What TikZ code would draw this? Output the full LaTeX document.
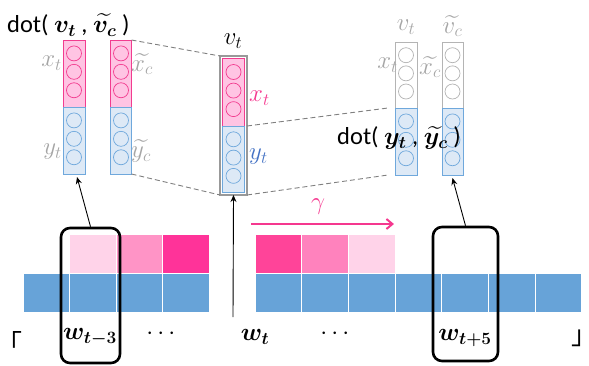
\documentclass[tikz,border=0pt]{standalone}
\usepackage{amsmath,bm}
\usepackage{fontspec}
\setsansfont{Carlito}
\newfontfamily\cjk{Noto Sans CJK JP}
\usetikzlibrary{arrows.meta}
\definecolor{pkfill}{HTML}{FFC4E3}
\definecolor{pkline}{HTML}{F23C8F}
\definecolor{blfill}{HTML}{DDE9F6}
\definecolor{blline}{HTML}{6FA8DC}
\definecolor{gyline}{HTML}{B4B4B4}
\definecolor{gytext}{HTML}{A6A6A6}
\definecolor{barblue}{HTML}{67A3D8}
\definecolor{pklight}{HTML}{FFD3E9}
\definecolor{pkmidL}{HTML}{FF94C6}
\definecolor{pkmidR}{HTML}{FF82BD}
\definecolor{pkhotL}{HTML}{FF3399}
\definecolor{pkhotR}{HTML}{FF4499}
\definecolor{gammapk}{HTML}{F5388F}
\definecolor{ytblue}{HTML}{4472C4}
\tikzset{
  seg/.style={inner sep=0pt, outer sep=0pt, line width=0.9pt},
  pseg/.style={seg, draw=pkline, fill=pkfill},
  bseg/.style={seg, draw=blline, fill=blfill},
  gseg/.style={seg, draw=gyline, fill=white},
  pcirc/.style={draw=pkline, line width=0.7pt},
  bcirc/.style={draw=blline, line width=0.7pt},
  gcirc/.style={draw=gyline, line width=0.7pt},
  cell/.style={inner sep=0pt, outer sep=0pt, draw=white, line width=1pt, minimum height=39, anchor=north west},
  lbl/.style={inner sep=0pt, font=\fontsize{27}{30}\selectfont},
  glbl/.style={lbl, text=gytext},
  dotlbl/.style={inner sep=0pt, font=\fontsize{24.5}{28}\selectfont},
  quote/.style={inner sep=0pt, font=\cjk\fontsize{26}{28}\selectfont},
  projline/.style={draw=gray, line width=0.9pt, dash pattern=on 5pt off 3pt},
  winbox/.style={draw=black, line width=2.6pt, rounded corners=9pt, inner sep=0pt, minimum width=59, minimum height=135},
  blk/.style={-{Stealth[length=7pt,width=6pt]}, line width=0.9pt},
}
% #1 name, #2 cx, #3 top, #4 bottom, #5 width, #6 seg style, #7 circ style
\newcommand{\vseg}[7]{%
  \node[#6, minimum width=#5, minimum height={#4-#3}] (#1) at (#2,{(#3+#4)/2}) {};
  \foreach \f in {0.2,0.475,0.75} \draw[#7] (#2,{#3+\f*(#4-#3)}) circle (7.5);
}
\begin{document}
\begin{tikzpicture}[x=1pt,y=-1pt]
\useasboundingbox (0,0) rectangle (589,365);

% ---- bottom bar ----
\foreach \i in {0,...,3} \node[cell, fill=barblue, minimum width=46.5] (bl\i) at ({23+46.5*\i},273) {};
\foreach \i in {0,...,6} \node[cell, fill=barblue, minimum width=46.7] (br\i) at ({255+46.7*\i},273) {};
\node[cell, fill=pklight, minimum width=46.5] (pl1) at (69.5,234) {};
\node[cell, fill=pkmidL, minimum width=46.5] (pl2) at (116,234) {};
\node[cell, fill=pkhotL, minimum width=46.5] (pl3) at (162.5,234) {};
\node[cell, fill=pkhotR, minimum width=46.7] (pr0) at (255,234) {};
\node[cell, fill=pkmidR, minimum width=46.7] (pr1) at (301.7,234) {};
\node[cell, fill=pklight, minimum width=46.7] (pr2) at (348.4,234) {};

% gamma arrow
\coordinate (gs) at (251,224);
\coordinate (ge) at (394,224);
\draw[gammapk, line width=2pt, -{Straight Barb[length=6pt,width=10pt]}] (gs) -- (ge);
\node[lbl, text=gammapk] (gam) at (318,207) {$\gamma$};

% ---- bottom labels ----
\node[quote] (lq) at (22,342) {\llap{「}};
\node[quote] (rq) at (571,338) {\rlap{」}};
\node[lbl] (w3) at (90,337) {$\bm{w_{t-3}}$};
\node[lbl] (d1) at (163,334) {$\cdots$};
\node[lbl] (wt) at (255,337) {$\bm{w_t}$};
\node[lbl] (d2) at (337,334) {$\cdots$};
\node[lbl] (w5) at (465,338) {$\bm{w_{t+5}}$};

% window boxes
\node[winbox] (lbox) at (90.5,295.5) {};
\node[winbox, minimum width=65, minimum height=134] (rbox) at (465.5,294) {};

% ---- left vectors ----
\vseg{vAp}{74}{40}{107}{22}{pseg}{pcirc}
\vseg{vAb}{74}{107}{174}{22}{bseg}{bcirc}
\vseg{vBp}{121}{40}{107}{21}{pseg}{pcirc}
\vseg{vBb}{121}{107}{174}{21}{bseg}{bcirc}
\node[dotlbl, anchor=west] (dotL) at (7,25) {\sffamily dot( $\bm{v_t}$ , $\widetilde{\bm{v_c}}$ )};
\node[glbl, anchor=east] (xtL) at (62,63) {$x_t$};
\node[glbl, anchor=east] (ytL) at (62,152) {$y_t$};
\node[glbl, anchor=west] (xcL) at (131,64) {$\widetilde{x_c}$};
\node[glbl, anchor=west] (ycL) at (131,151) {$\widetilde{y_c}$};

% ---- center vector ----
\node[seg, draw=gray!80, line width=1.6pt, fill=white, minimum width=27, minimum height=139] (cout) at (233.5,125.5) {};
\vseg{cp}{233.5}{58.5}{126}{22}{pseg}{pcirc}
\vseg{cb}{233.5}{126}{192.5}{22}{bseg}{bcirc}
\node[lbl] (vtC) at (233,41) {$v_t$};
\node[lbl, text=gammapk, anchor=west] (xtC) at (249,98) {$x_t$};
\node[lbl, text=ytblue, anchor=west] (ytC) at (249,157) {$y_t$};

% ---- right vectors ----
\vseg{vCg}{406}{42}{108}{22}{gseg}{gcirc}
\vseg{vCb}{406}{108}{175}{22}{bseg}{bcirc}
\vseg{vDg}{452.5}{42}{108}{21}{gseg}{gcirc}
\vseg{vDb}{452.5}{108}{175}{21}{bseg}{bcirc}
\node[glbl] (vtR) at (406,27) {$v_t$};
\node[glbl] (vcR) at (452.5,26) {$\widetilde{v_c}$};
\node[glbl, anchor=east] (xtR) at (398,65) {$x_t$};
\node[glbl] (xcR) at (430,67) {$\widetilde{x_c}$};
\node[dotlbl] (dotR) at (399,138) {\sffamily dot( $\bm{y_t}$ , $\widetilde{\bm{y_c}}$ )};

% ---- dashed projections ----
\draw[projline] (vBp.north east) -- (cout.north west);
\draw[projline] (vBb.south east) -- (cout.south west);
\draw[projline] (cout.east |- cb.north) -- ([xshift=-7pt]vCb.north west);
\draw[projline] (cout.south east) -- ([xshift=-7pt]vCb.south west);

% ---- arrows ----
\coordinate (wtfoot) at (233,317);
\draw[blk] (wtfoot) -- (cout.south);
\draw[blk] (lbox.north) -- ([xshift=3pt,yshift=-3pt]vAb.south);
\draw[blk] (rbox.north) -- ([yshift=-3pt]vDb.south);
\end{tikzpicture}
\end{document}
